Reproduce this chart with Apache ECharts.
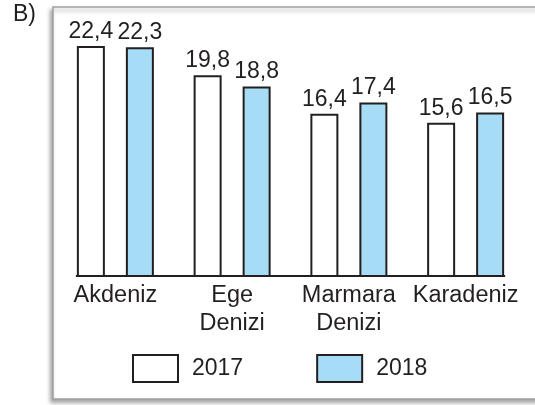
<!DOCTYPE html>
<html>
<head>
<meta charset="utf-8">
<script src="https://cdn.jsdelivr.net/npm/echarts@6/dist/echarts.min.js"></script>
<style>html,body{margin:0;padding:0;background:#fff}#c{width:535px;height:405px}</style>
</head>
<body>
<div id="c"></div>
<script>
const categories = ['Akdeniz', 'Ege\nDenizi', 'Marmara\nDenizi', 'Karadeniz'];
const values2017 = [22.4, 19.8, 16.4, 15.6];
const values2018 = [22.3, 18.8, 17.4, 16.5];
const seriesNames = ['2017', '2018'];

const FONT = '"Liberation Sans", Arial, Helvetica, sans-serif';
const BAR_W = 28;
const GAP = 0.75;
const Y_MIN = 2, Y_MAX = 24;

const chart = echarts.init(document.getElementById('c'), null, {renderer: 'canvas'});
const labelCfg = {
  show: true, position: 'top', distance: 3,
  fontFamily: FONT, fontSize: 23, color: '#231f20',
  formatter: p => String(p.value).replace('.', ',')
};
const itemBorder = {borderColor: '#231f20', borderWidth: 2};

chart.setOption({
  backgroundColor: '#fff',
  animation: false,
  graphic: [
    {type: 'rect', shape: {x: 53, y: 7, width: 520, height: 392},
     style: {fill: '#fff', stroke: '#a0a0a0', lineWidth: 1.5,
             shadowBlur: 4, shadowOffsetX: -2, shadowOffsetY: 3, shadowColor: 'rgba(0,0,0,0.35)'}, z: -10},
    {type: 'text', left: 13, top: 3,
     style: {text: 'B)', fontFamily: FONT, fontSize: 23, fill: '#231f20'}}
  ],
  grid: {left: 57, width: 467, top: 28, height: 248},
  xAxis: {
    type: 'category', data: categories,
    axisLine: {show: false}, axisTick: {show: false},
    axisLabel: {fontFamily: FONT, fontSize: 23.5, color: '#231f20', lineHeight: 28, margin: 6, interval: 0}
  },
  yAxis: {type: 'value', min: Y_MIN, max: Y_MAX, show: false, splitLine: {show: false}},
  legend: {
    left: 127, top: 349, itemWidth: 45, itemHeight: 27, itemGap: 73, icon: 'rect',
    textStyle: {fontFamily: FONT, fontSize: 23, color: '#231f20', padding: [0, 0, 0, 9]},
    data: seriesNames
  },
  series: [
    {name: seriesNames[0], type: 'bar', data: values2017, barWidth: BAR_W, barGap: (GAP*100)+'%',
     itemStyle: Object.assign({color: '#ffffff'}, itemBorder), label: labelCfg},
    {name: seriesNames[1], type: 'bar', data: values2018, barWidth: BAR_W, barGap: (GAP*100)+'%',
     itemStyle: Object.assign({color: '#a6dcf6'}, itemBorder), label: labelCfg},
    {type: 'custom', data: [[0, Y_MIN]], silent: true, z: 5,
     renderItem: function (params, api) {
       const s = api.coord([0, Y_MIN]);
       const e = api.coord([categories.length - 1, Y_MIN]);
       const half = BAR_W + BAR_W * GAP / 2 + 1;
       return {type: 'line', shape: {x1: s[0] - half, y1: s[1], x2: e[0] + half, y2: e[1]},
               style: {stroke: '#231f20', lineWidth: 2}};
     }}
  ]
});
</script>
</body>
</html>
